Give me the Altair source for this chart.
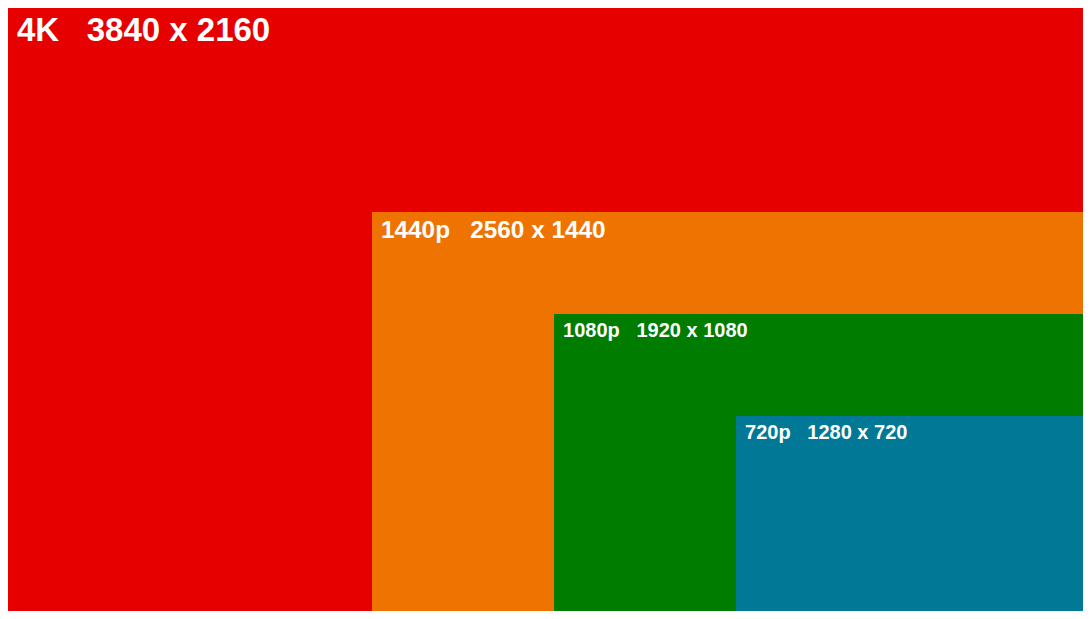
import altair as alt
import pandas as pd

names = ["4K", "1440p", "1080p", "720p"]
widths = [3840, 2560, 1920, 1280]
heights = [2160, 1440, 1080, 720]
colors = ["#E60000", "#EF7300", "#007C00", "#007896"]

NB = "\u00a0"
labels = [f"{n}{NB*3}{w}{NB}x{NB}{h}" for n, w, h in zip(names, widths, heights)]

df = pd.DataFrame({"name": names, "w": widths, "h": heights, "label": labels, "zero": 0})

# the picture's right and bottom edges are cropped slightly
xs = alt.Scale(domain=[60, 3840], reverse=True, nice=False, zero=False)
ys = alt.Scale(domain=[32, 2160], nice=False, zero=False)

rects = alt.Chart(df).mark_rect(clip=True).encode(
    x=alt.X("w:Q", scale=xs, axis=None),
    x2="zero:Q",
    y=alt.Y("h:Q", scale=ys, axis=None),
    y2="zero:Q",
    color=alt.Color("name:N", scale=alt.Scale(domain=names, range=colors), legend=None),
    order=alt.Order("w:Q", sort="descending"),
)

texts = alt.Chart(df).mark_text(
    align="left", baseline="top", dx=9, dy=7, color="white", fontWeight="bold",
    font="Liberation Sans Narrow, Liberation Sans, Arial, sans-serif",
).encode(
    x=alt.X("w:Q", scale=xs, axis=None),
    y=alt.Y("h:Q", scale=ys, axis=None),
    text="label:N",
    size=alt.Size("w:Q", scale=alt.Scale(domain=[1920, 3840], range=[20, 33], clamp=True), legend=None),
)

chart = alt.layer(rects, texts).properties(
    width=1075, height=603, padding=0, autosize=alt.AutoSizeParams(type="none")
).configure_view(stroke=None).configure(background="white")

chart.save("out.html", embed_options={"renderer": "svg", "actions": False})
